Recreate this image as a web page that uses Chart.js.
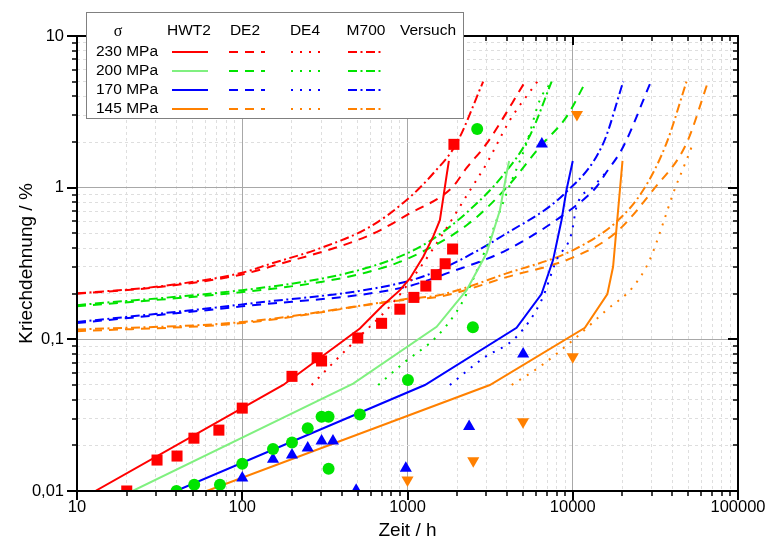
<!DOCTYPE html>
<html lang="de">
<head>
<meta charset="utf-8">
<title>Kriechdehnung</title>
<script src="https://cdn.jsdelivr.net/npm/chart.js@4.4.1/dist/chart.umd.min.js"></script>
<style>
  html, body { margin: 0; padding: 0; background: #fff; }
  #wrap { width: 766px; height: 542px; position: relative; }
</style>
</head>
<body>
<div id="wrap"><canvas id="creep"></canvas></div>
<script>
// Axis decades and their printed labels (German decimal comma)
const xDecades = [10, 100, 1000, 10000, 100000];
const xTickLabels = ['10', '100', '1000', '10000', '100000'];
const yDecades = [0.01, 0.1, 1, 10];
const yTickLabels = ['0,01', '0,1', '1', '10'];

const stressLabels = ['230 MPa', '200 MPa', '170 MPa', '145 MPa'];
const modelLabels = ['HWT2', 'DE2', 'DE4', 'M700', 'Versuch'];

// ---- HWT2 model (solid) ----
const hwt2T230 = [12.9, 177, 515, 700, 900, 1034, 1245, 1430, 1570, 1644, 1724, 1780];
const hwt2E230 = [0.01, 0.05, 0.118, 0.165, 0.211, 0.252, 0.35, 0.475, 0.61, 0.85, 1.2, 1.5];
const hwt2T200 = [21.7, 469, 1500, 2278, 3010, 3624, 3977, 4120];
const hwt2E200 = [0.01, 0.051, 0.121, 0.211, 0.369, 0.71, 1.24, 1.5];
const hwt2T170 = [39.7, 1274, 4570, 6470, 7600, 8550, 9160, 10000];
const hwt2E170 = [0.01, 0.05, 0.119, 0.199, 0.333, 0.61, 0.964, 1.5];
const hwt2T145 = [61, 3151, 11840, 16200, 17540, 20000];
const hwt2E145 = [0.01, 0.05, 0.119, 0.199, 0.301, 1.5];

// ---- DE2 model (dashed) ----
const de2T230 = [10, 30, 100, 147, 592, 1034, 1858, 2278, 3010, 5150];
const de2E230 = [0.2, 0.22, 0.268, 0.301, 0.487, 0.677, 1.0, 1.35, 1.95, 5];
const de2T200 = [10, 100, 306, 592, 1000, 2300, 3977, 6320, 9160, 12000];
const de2E200 = [0.165, 0.205, 0.24, 0.28, 0.34, 0.57, 1.0, 1.86, 2.93, 5];
const de2T170 = [10, 100, 980, 1724, 3977, 9600, 13900, 15800, 20200, 29700];
const de2E170 = [0.128, 0.165, 0.222, 0.272, 0.388, 0.71, 1.01, 1.24, 1.86, 5];
const de2T145 = [10, 100, 1000, 1570, 3977, 10060, 18400, 30600, 48800, 65900];
const de2E145 = [0.113, 0.128, 0.183, 0.191, 0.257, 0.347, 0.51, 0.964, 1.96, 5];

// ---- DE4 model (dotted) ----
const de4T230 = [263, 355, 492, 783, 1200, 1644, 2330, 3010, 4170, 6100];
const de4E230 = [0.05, 0.07, 0.1, 0.165, 0.3, 0.5, 0.92, 1.44, 2.79, 5];
const de4T200 = [665, 942, 1500, 1980, 2278, 3010, 3977, 5250, 6320, 7450];
const de4E200 = [0.05, 0.0695, 0.104, 0.152, 0.2, 0.408, 0.917, 1.96, 3.78, 5];
const de4T170 = [1805, 2870, 4570, 6470, 7980, 9830, 10540, 13290, 16000];
const de4E170 = [0.05, 0.075, 0.104, 0.181, 0.333, 0.5, 0.748, 1.01, 1.27];
const de4T145 = [4270, 6320, 10060, 16000, 23200, 29200, 35200, 40500, 48800, 53800];
const de4E145 = [0.05, 0.066, 0.099, 0.156, 0.222, 0.333, 0.582, 0.917, 1.52, 2.0];

// ---- M700 model (dash-dot) ----
const m700T230 = [10, 30, 100, 147, 295, 592, 988, 1430, 1980, 2870];
const m700E230 = [0.201, 0.222, 0.275, 0.314, 0.398, 0.552, 0.829, 1.24, 1.96, 5];
const m700T200 = [10, 100, 306, 592, 1000, 1430, 2300, 3793, 5500, 7450];
const m700E200 = [0.168, 0.211, 0.252, 0.3, 0.37, 0.46, 0.69, 1.21, 2.2, 5];
const m700T170 = [10, 100, 980, 1644, 3977, 8950, 15300, 20200];
const m700E170 = [0.13, 0.17, 0.24, 0.294, 0.5, 0.917, 1.96, 5];
const m700T145 = [10, 100, 1000, 1570, 3977, 10060, 18400, 26700, 36900, 48800];
const m700E145 = [0.116, 0.13, 0.185, 0.196, 0.272, 0.388, 0.596, 0.964, 1.96, 5];

// ---- test results (Versuch) ----
const testT230 = [20, 30.5, 40.3, 51, 72.2, 100, 200, 284, 302, 500, 697, 899, 1093, 1291, 1492, 1690, 1875, 1910];
const testE230 = [0.01, 0.016, 0.017, 0.0223, 0.0252, 0.0352, 0.057, 0.0756, 0.072, 0.102, 0.1275, 0.158, 0.189, 0.2245, 0.267, 0.315, 0.394, 1.93];
const testT200 = [40, 51.2, 73.3, 100, 153.5, 200, 249, 302, 333, 333, 515, 1006, 2487, 2641];
const testE200 = [0.01, 0.011, 0.011, 0.0151, 0.0189, 0.0209, 0.0259, 0.0309, 0.0309, 0.014, 0.032, 0.054, 0.12, 2.44];
const testT170 = [100, 153.5, 200, 249, 302, 354, 489, 977, 2360, 5010, 6500];
const testE170 = [0.0122, 0.0162, 0.0173, 0.0192, 0.0214, 0.0214, 0.0101, 0.0141, 0.0266, 0.08, 1.94];
const testT145 = [1000, 2500, 5000, 10000, 10600];
const testE145 = [0.0118, 0.0158, 0.0286, 0.0768, 3.04];

const RED = '#ff0000';
const GREEN = '#00e400';
const LIGHT_GREEN = '#80f080';
const BLUE = '#0000ff';
const ORANGE = '#ff8000';

const DASH = [9, 7];
const DOT = [2, 7];
const DASH_DOT = [9, 3.5, 2, 3.5];

const FONT = "'Liberation Sans', Arial, sans-serif";

function pts(t, e) {
    return t.map((x, i) => ({ x: x, y: e[i] }));
}

function isDecade(v) {
    const l = Math.log10(v);
    return Math.abs(l - Math.round(l)) < 1e-6;
}

// 1..9 x 10^n between the two decades
function logTicks(min, max) {
    const out = [];
    for (let e = Math.round(Math.log10(min)); e < Math.round(Math.log10(max)); e++) {
        for (let k = 1; k < 10; k++) out.push(Number((k * Math.pow(10, e)).toPrecision(6)));
    }
    out.push(max);
    return out;
}

function labelFor(v, decades, labels) {
    for (let i = 0; i < decades.length; i++) {
        if (Math.abs(v / decades[i] - 1) < 1e-6) return labels[i];
    }
    return '';
}

function curve(label, t, e, color, dash, smooth) {
    return {
        label: label,
        data: pts(t, e),
        showLine: true,
        borderColor: color,
        backgroundColor: color,
        borderWidth: 2,
        borderDash: dash,
        pointRadius: 0,
        pointHoverRadius: 0,
        tension: 0,
        cubicInterpolationMode: smooth ? 'monotone' : 'default',
        fill: false,
        order: 2
    };
}

function markers(label, t, e, color, style, radius, rotation) {
    return {
        label: label,
        data: pts(t, e),
        showLine: false,
        pointStyle: style,
        pointRadius: radius,
        pointHoverRadius: radius,
        pointRotation: rotation || 0,
        pointBackgroundColor: color,
        pointBorderColor: color,
        pointBorderWidth: 0,
        order: 1
    };
}

const datasets = [
    curve('HWT2 230', hwt2T230, hwt2E230, RED, [], false),
    curve('HWT2 200', hwt2T200, hwt2E200, LIGHT_GREEN, [], false),
    curve('HWT2 170', hwt2T170, hwt2E170, BLUE, [], false),
    curve('HWT2 145', hwt2T145, hwt2E145, ORANGE, [], false),
    curve('DE2 230', de2T230, de2E230, RED, DASH, true),
    curve('DE2 200', de2T200, de2E200, GREEN, DASH, true),
    curve('DE2 170', de2T170, de2E170, BLUE, DASH, true),
    curve('DE2 145', de2T145, de2E145, ORANGE, DASH, true),
    curve('DE4 230', de4T230, de4E230, RED, DOT, true),
    curve('DE4 200', de4T200, de4E200, GREEN, DOT, true),
    curve('DE4 170', de4T170, de4E170, BLUE, DOT, true),
    curve('DE4 145', de4T145, de4E145, ORANGE, DOT, true),
    curve('M700 230', m700T230, m700E230, RED, DASH_DOT, true),
    curve('M700 200', m700T200, m700E200, GREEN, DASH_DOT, true),
    curve('M700 170', m700T170, m700E170, BLUE, DASH_DOT, true),
    curve('M700 145', m700T145, m700E145, ORANGE, DASH_DOT, true),
    markers('Versuch 230', testT230, testE230, RED, 'rect', 7.8),
    markers('Versuch 200', testT200, testE200, GREEN, 'circle', 6),
    markers('Versuch 170', testT170, testE170, BLUE, 'triangle', 7),
    markers('Versuch 145', testT145, testE145, ORANGE, 'triangle', 7, 180)
];

// frame, tick marks and the table-style legend
const framePlugin = {
    id: 'frameAndLegend',
    afterDraw(chart) {
        const { ctx, chartArea: a, scales: { x, y } } = chart;
        ctx.save();
        ctx.strokeStyle = '#000';
        ctx.setLineDash([]);

        function seg(x1, y1, x2, y2, w) {
            ctx.lineWidth = w;
            ctx.beginPath();
            ctx.moveTo(x1, y1);
            ctx.lineTo(x2, y2);
            ctx.stroke();
        }

        for (const v of logTicks(10, 100000)) {
            const px = Math.round(x.getPixelForValue(v));
            const major = isDecade(v);
            const len = major ? 9 : 5;
            const w = major ? 2 : 1.5;
            seg(px, a.bottom, px, a.bottom + len, w);
            seg(px, a.top, px, a.top + len, w);
        }
        for (const v of logTicks(0.01, 10)) {
            const py = Math.round(y.getPixelForValue(v));
            const major = isDecade(v);
            const len = major ? 10 : 5;
            const w = major ? 2 : 1.5;
            seg(a.left - len, py, a.left, py, w);
            seg(a.right - len, py, a.right, py, w);
        }
        ctx.lineWidth = 2;
        ctx.strokeRect(a.left, a.top, a.right - a.left, a.bottom - a.top);

        // legend table
        const box = { x: 86, y: 12, w: 377, h: 106 };
        ctx.fillStyle = '#fff';
        ctx.fillRect(box.x, box.y, box.w, box.h);
        ctx.strokeStyle = '#808080';
        ctx.lineWidth = 1;
        ctx.strokeRect(box.x + 0.5, box.y + 0.5, box.w, box.h);

        const colX = [189, 245, 305, 366, 428];
        const sampleX = [[172, 208], [229, 265], [291, 321], [348, 382]];
        const rowY = [52, 71, 90, 109];
        const rowColors = [
            [RED, RED, RED, RED, RED],
            [LIGHT_GREEN, GREEN, GREEN, GREEN, GREEN],
            [BLUE, BLUE, BLUE, BLUE, BLUE],
            [ORANGE, ORANGE, ORANGE, ORANGE, ORANGE]
        ];
        const dashes = [[], DASH, DOT, DASH_DOT];

        ctx.fillStyle = '#000';
        ctx.textBaseline = 'middle';
        ctx.textAlign = 'center';
        ctx.font = "16px 'Liberation Serif', 'DejaVu Serif', serif";
        ctx.fillText('\u03c3', 118, 32);
        ctx.font = '15.5px ' + FONT;
        modelLabels.forEach((m, i) => ctx.fillText(m, colX[i], 31));

        ctx.textAlign = 'right';
        stressLabels.forEach((s, r) => {
            ctx.fillStyle = '#000';
            ctx.fillText(s, 158, rowY[r]);
            for (let c = 0; c < 4; c++) {
                ctx.strokeStyle = rowColors[r][c];
                ctx.lineWidth = 2;
                ctx.setLineDash(dashes[c]);
                ctx.beginPath();
                ctx.moveTo(sampleX[c][0], rowY[r]);
                ctx.lineTo(sampleX[c][1], rowY[r]);
                ctx.stroke();
            }
            ctx.setLineDash([]);
            const ds = datasets[16 + r];
            Chart.helpers.drawPoint(ctx, {
                pointStyle: ds.pointStyle,
                rotation: ds.pointRotation,
                borderWidth: 0
            }, 427, rowY[r], ds.pointRadius);
            ctx.fillStyle = rowColors[r][4];
            ctx.fill();
        });
        ctx.restore();
    }
};

function gridColor(ctx) {
    return ctx.tick && isDecade(ctx.tick.value) ? '#a8a8a8' : '#dedede';
}
function gridDash(ctx) {
    return ctx.tick && !isDecade(ctx.tick.value) ? [3, 3] : [];
}

new Chart(document.getElementById('creep'), {
    type: 'scatter',
    data: { datasets: datasets },
    options: {
        responsive: true,
        maintainAspectRatio: false,
        animation: false,
        events: [],
        layout: { padding: { top: 36, right: 28, left: 0, bottom: 0 } },
        plugins: {
            legend: { display: false },
            tooltip: { enabled: false }
        },
        scales: {
            x: {
                type: 'logarithmic',
                min: 10,
                max: 100000,
                afterBuildTicks: (s) => { s.ticks = logTicks(10, 100000).map(v => ({ value: v })); },
                afterFit: (s) => {
                    s.height = 51;
                    s.paddingLeft = 0;
                    s.paddingRight = 0;
                },
                ticks: {
                    autoSkip: false,
                    maxRotation: 0,
                    padding: 7,
                    color: '#000',
                    font: { family: FONT, size: 16.5 },
                    callback: (v) => labelFor(v, xDecades, xTickLabels)
                },
                grid: { drawTicks: false, color: gridColor, lineWidth: 1 },
                border: { display: false, dash: gridDash },
                title: {
                    display: true,
                    text: 'Zeit / h',
                    color: '#000',
                    font: { family: FONT, size: 19 },
                    padding: { top: 0, bottom: 0 }
                }
            },
            y: {
                type: 'logarithmic',
                min: 0.01,
                max: 10,
                afterBuildTicks: (s) => { s.ticks = logTicks(0.01, 10).map(v => ({ value: v })); },
                afterFit: (s) => {
                    s.width = 77;
                    s.paddingTop = 0;
                    s.paddingBottom = 0;
                },
                ticks: {
                    autoSkip: false,
                    padding: 13,
                    color: '#000',
                    font: { family: FONT, size: 16.5 },
                    callback: (v) => labelFor(v, yDecades, yTickLabels)
                },
                grid: { drawTicks: false, color: gridColor, lineWidth: 1 },
                border: { display: false, dash: gridDash },
                title: {
                    display: true,
                    text: 'Kriechdehnung / %',
                    color: '#000',
                    font: { family: FONT, size: 19 },
                    padding: { top: 15, bottom: 0 }
                }
            }
        }
    },
    plugins: [framePlugin]
});
</script>
</body>
</html>
